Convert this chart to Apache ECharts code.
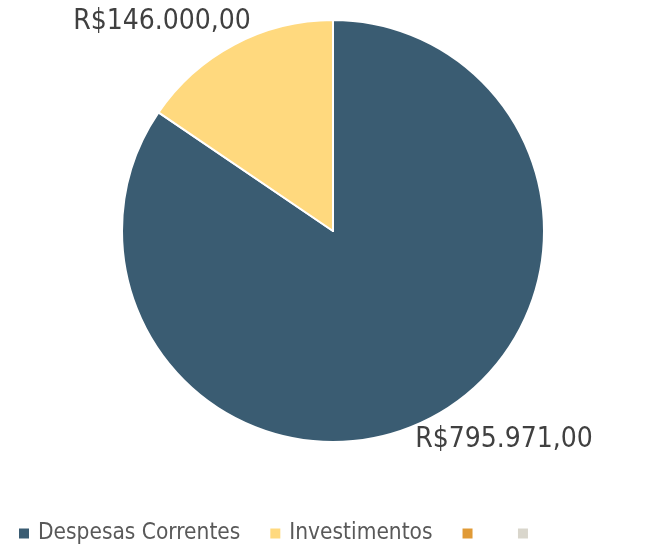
<!DOCTYPE html>
<html>
<head>
<meta charset="utf-8">
<script src="https://cdn.jsdelivr.net/npm/echarts@6/dist/echarts.min.js"></script>
<style>
  html, body { margin: 0; padding: 0; background: #fff; }
  #chart { width: 651px; height: 552px; }
</style>
</head>
<body>
<div id="chart"></div>
<script>
const categories = ['Despesas Correntes', 'Investimentos', 'Outros 1', 'Outros 2']
const values = [795971, 146000, 0, 0]
const colors = ['#3A5C72', '#FFD97E', '#E09A36', '#D9D6CC']

const fontFamily = '"DejaVu Sans Condensed", "Liberation Sans", sans-serif'

// formata como moeda brasileira: R$795.971,00
const formatBRL = (v) => {
    const parts = v.toFixed(2).split('.')
    const inteiro = parts[0].replace(/\B(?=(\d{3})+(?!\d))/g, '.')
    return 'R$' + inteiro + ',' + parts[1]
}

// posição (centro) de cada rótulo, como no Excel
const labelPos = [[504, 440], [162, 22]]

const chart = echarts.init(document.getElementById('chart'))

const option = {
    animation: false,
    color: colors,
    legend: {
        top: 517,
        left: 12,
        itemWidth: 12,
        itemHeight: 12,
        itemGap: 28,
        icon: 'rect',
        data: categories,
        // as duas últimas categorias não têm nome no original
        formatter: (name) => (name.startsWith('Outros') ? ' ' : name),
        textStyle: {
            color: '#595959',
            fontSize: 22.5,
            fontFamily,
            padding: [0, 0, 0, 3]
        }
    },
    series: [
        {
            type: 'pie',
            center: [333, 231],
            radius: 211,
            startAngle: 90,
            clockwise: true,
            itemStyle: {
                borderColor: '#fff',
                borderWidth: 2
            },
            label: {
                show: true,
                position: 'outside',
                overflow: 'none',
                formatter: (p) => formatBRL(p.value),
                color: '#404040',
                fontSize: 28,
                fontFamily
            },
            labelLine: { show: false },
            labelLayout: (params) => {
                const pos = labelPos[params.dataIndex]
                if (!pos) return {}
                return { x: pos[0], y: pos[1], align: 'center', verticalAlign: 'middle' }
            },
            data: categories.map((name, i) => ({
                name,
                value: values[i],
                label: { show: values[i] > 0 }
            }))
        }
    ]
}

chart.setOption(option)
</script>
</body>
</html>
